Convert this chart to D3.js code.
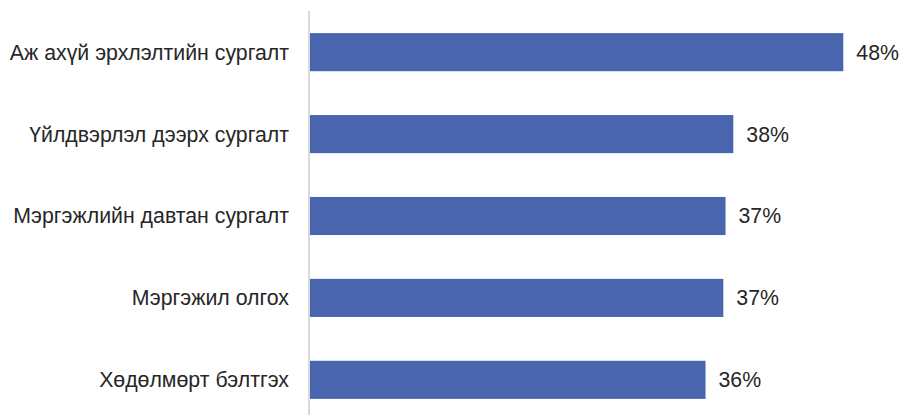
<!DOCTYPE html>
<html><head><meta charset="utf-8">
<script src="https://cdn.jsdelivr.net/npm/d3@7"></script>
<style>body{margin:0;background:#fff}svg{display:block}</style>
</head><body>
<svg id="c" width="903" height="415"></svg>
<script>
const categories = ["Аж ахүй эрхлэлтийн сургалт","Үйлдвэрлэл дээрх сургалт","Мэргэжлийн давтан сургалт","Мэргэжил олгох","Хөдөлмөрт бэлтгэх"];
const values = [48, 38.1, 37.4, 37.2, 35.6];

const svg = d3.select("#c");
const x = d3.scaleLinear().domain([0, 48]).range([310, 843.3]);
const y = d3.scaleBand().domain(categories).range([11, 421]).paddingInner(0.535).paddingOuter(0.27);

svg.selectAll("rect.bar").data(values).join("rect")
  .attr("class","bar")
  .attr("x", x(0))
  .attr("y", (d,i)=>y(categories[i]))
  .attr("width", d=>x(d)-x(0))
  .attr("height", y.bandwidth())
  .attr("fill", "#4965AD");

svg.append("line").attr("x1",309).attr("x2",309).attr("y1",11).attr("y2",415)
  .attr("stroke","#d9d9d9").attr("stroke-width",2);

const fmt = d3.format(".0f");
svg.selectAll("text.val").data(values).join("text")
  .attr("class","val")
  .attr("x", d=>x(d)+13)
  .attr("y", (d,i)=>y(categories[i])+y.bandwidth()/2)
  .attr("dy","0.35em")
  .attr("font-family","Liberation Sans, Arial, sans-serif")
  .attr("font-size",21.3).attr("fill","#262626")
  .text(d=>fmt(d)+"%");

svg.selectAll("text.cat").data(categories).join("text")
  .attr("class","cat")
  .attr("x", 289)
  .attr("y", d=>y(d)+y.bandwidth()/2)
  .attr("dy","0.35em")
  .attr("text-anchor","end")
  .attr("font-family","Liberation Sans, Arial, sans-serif")
  .attr("font-size",21.3).attr("fill","#262626")
  .text(d=>d);
</script>
</body></html>
